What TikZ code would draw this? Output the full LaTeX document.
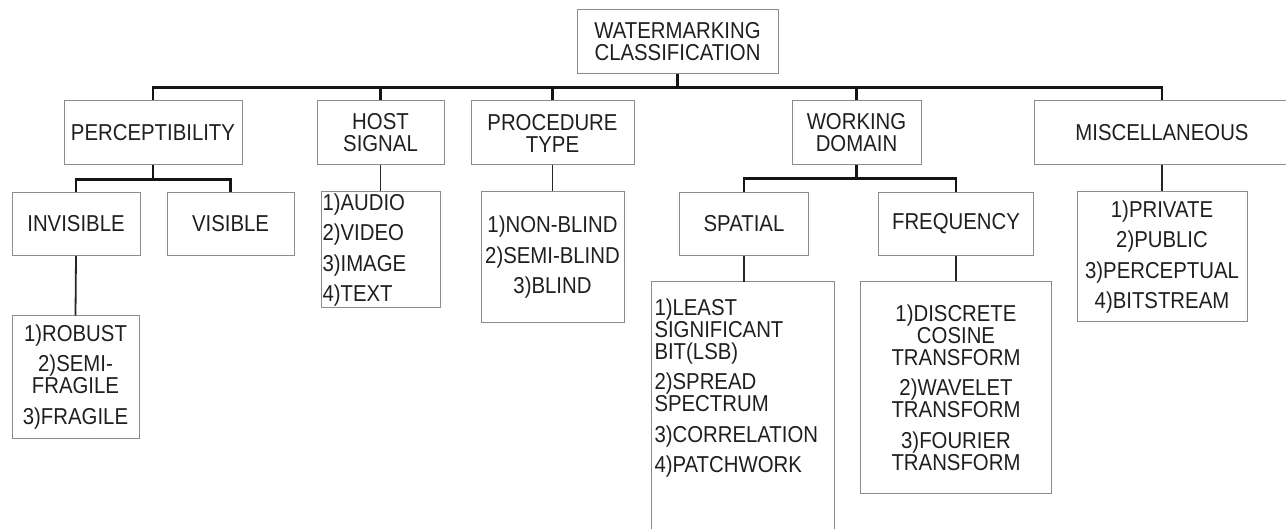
\documentclass[tikz,border=0pt]{standalone}
\usepackage{fontspec}
\setmainfont{Liberation Sans}[FakeStretch=0.885]
\begin{document}
\begin{tikzpicture}[x=1pt,y=-1pt,
  boxline/.style={draw=black!45, line width=1pt},
  box/.style={boxline, text=black!88, align=center, inner sep=0pt,
    font=\fontsize{23}{22}\selectfont},
  ltext/.style={text=black!88, align=left, inner sep=0pt,
    font=\fontsize{23}{22}\selectfont},
  conn/.style={draw=black!92, line width=2.2pt},
  lconn/.style={draw=black!85, line width=1.8pt}]
\useasboundingbox (0,0) rectangle (1286,529);

% level 1
\node[box, minimum width=201pt, minimum height=64pt] (root) at (677.5,42) {WATERMARKING\\CLASSIFICATION};

% level 2
\node[box, minimum width=178pt, minimum height=64pt] (perc) at (153,133) {PERCEPTIBILITY};
\node[box, minimum width=127pt, minimum height=64pt] (host) at (380.5,133) {HOST\\SIGNAL};
\node[box, minimum width=163pt, minimum height=64pt] (proc) at (552.5,133) {PROCEDURE\\TYPE};
\node[box, minimum width=129pt, minimum height=64pt] (work) at (856.5,133) {WORKING\\DOMAIN};

% level 3
\node[box, minimum width=128pt, minimum height=63pt] (invis) at (76,224) {INVISIBLE};
\node[box, minimum width=127pt, minimum height=63pt] (vis) at (230.5,224) {VISIBLE};
\node[box, minimum width=128.5pt, minimum height=63pt] (spatial) at (744,224) {SPATIAL};
\node[box, minimum width=155.5pt, minimum height=63pt] (freq) at (956,224) {FREQUENCY};

% lists
\node[box, align=left, text width=116pt, inner xsep=1.5pt, minimum height=116pt] (hostl) at (380.5,250)
  {1)AUDIO\\[8.5pt]2)VIDEO\\[8.5pt]3)IMAGE\\[8.5pt]4)TEXT};
\node[box, minimum width=143pt, minimum height=131pt] (procl) at (552.5,257.5)
  {1)NON-BLIND\\[8.5pt]2)SEMI-BLIND\\[8.5pt]3)BLIND};
\node[box, minimum width=127pt, minimum height=122pt] (invl) at (75.5,377)
  {1)ROBUST\\[8.5pt]2)SEMI-\\FRAGILE\\[8.5pt]3)FRAGILE};
\node[box, minimum width=190.5pt, minimum height=211pt] (freql) at (956,387.5)
  {1)DISCRETE\\COSINE\\TRANSFORM\\[8.5pt]2)WAVELET\\TRANSFORM\\[8.5pt]3)FOURIER\\TRANSFORM};
\node[box, minimum width=170pt, minimum height=130pt] (miscl) at (1162,257)
  {1)PRIVATE\\[8.5pt]2)PUBLIC\\[8.5pt]3)PERCEPTUAL\\[8.5pt]4)BITSTREAM};

\begin{scope}
\clip (0,0) rectangle (1286,529);
\node[box, minimum width=256pt, minimum height=64pt] (misc) at (1162,133) {MISCELLANEOUS};
\node[ltext, text width=178pt] (spl) at (743.5,388)
  {1)LEAST\\SIGNIFICANT\\BIT(LSB)\\[8.5pt]2)SPREAD\\SPECTRUM\\[8.5pt]3)CORRELATION\\[8.5pt]4)PATCHWORK};
\draw[boxline] (651.5,545) |- (834,282) -- (834,545);
\end{scope}
\coordinate (spltop) at (742.5,282);

% connectors
\foreach \c in {perc,host,proc,work,misc}
  \draw[conn] (root.south) -- ++(0,13) -| (\c.north);
\foreach \c in {invis,vis}
  \draw[conn] (perc.south) -- ++(0,14) -| (\c.north);
\foreach \c in {spatial,freq}
  \draw[conn] (work.south) -- ++(0,13) -| (\c.north);
\draw[lconn] (invis.south) -- (invl.north);
\draw[lconn] (host.south) -- (hostl.north);
\draw[lconn] (proc.south) -- (procl.north);
\draw[lconn] (spatial.south) -- (spatial.south |- spltop);
\draw[lconn] (freq.south) -- (freql.north);
\draw[lconn] (misc.south) -- (miscl.north);
\end{tikzpicture}
\end{document}
